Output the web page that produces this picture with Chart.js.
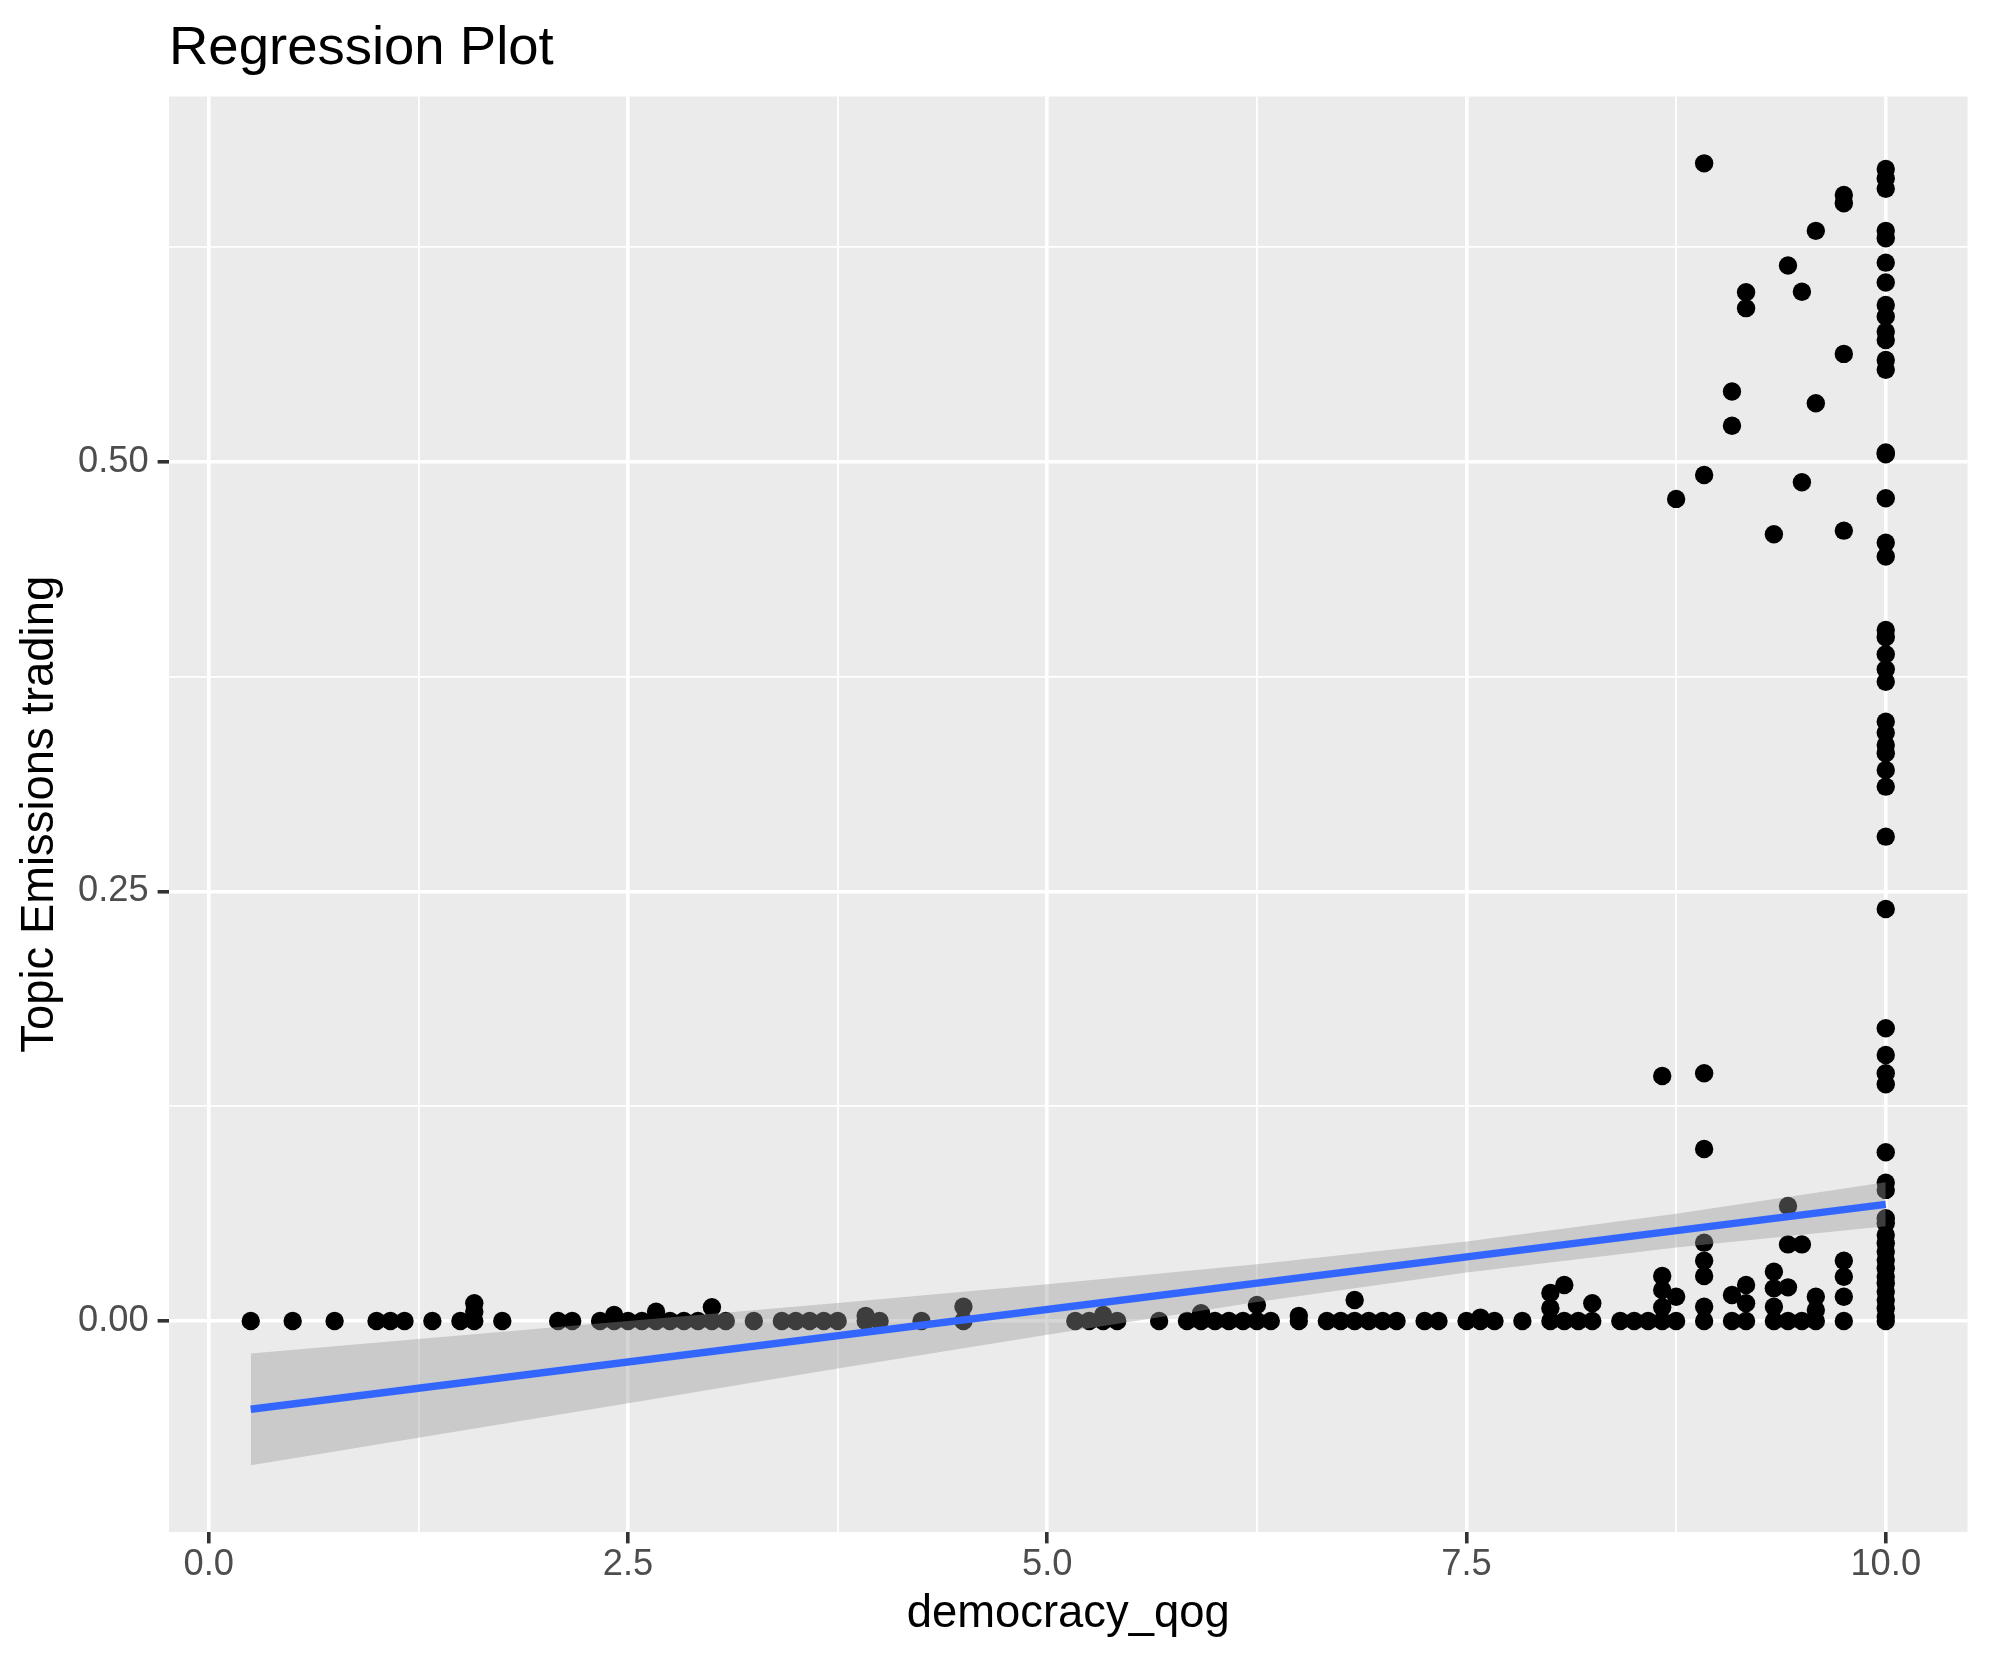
<!DOCTYPE html>
<html lang="en">
<head>
<meta charset="UTF-8">
<title>Regression Plot</title>
<script src="https://cdn.jsdelivr.net/npm/chart.js"></script>
<style>
  html, body { margin: 0; padding: 0; background: #ffffff; }
  #chart { display: block; }
</style>
</head>
<body>
<canvas id="chart" width="1990" height="1665"></canvas>
<script>
// democracy_qog levels (x) and the topic shares seen at each level (y)
const democracyLevels = [
  0.25, 0.5, 0.75, 1, 1.083, 1.167, 1.333, 1.5, 1.583, 1.75,
  2.083, 2.167, 2.333, 2.417, 2.5, 2.583, 2.667, 2.75, 2.833, 2.917,
  3, 3.083, 3.25, 3.417, 3.5, 3.583, 3.667, 3.75, 3.917, 4,
  4.25, 4.5, 5.167, 5.25, 5.333, 5.417, 5.667, 5.833, 5.917, 6,
  6.083, 6.167, 6.25, 6.333, 6.5, 6.667, 6.75, 6.833, 6.917, 7,
  7.083, 7.25, 7.333, 7.5, 7.583, 7.667, 7.833, 8, 8.083, 8.167,
  8.25, 8.417, 8.5, 8.583, 8.667, 8.75, 8.917, 9.083, 9.167, 9.333,
  9.417, 9.5, 9.583, 9.75, 10
];
const topicShares = [
  [0], [0], [0], [0], [0], [0], [0], [0], [0, 0.0054, 0.0103], [0],
  [0], [0], [0], [0, 0.0035], [0], [0], [0, 0.0054], [0], [0], [0],
  [0, 0.008], [0], [0], [0], [0], [0], [0], [0], [0, 0.003], [0],
  [0], [0, 0.0083], [0], [0], [0, 0.0035], [0], [0], [0], [0, 0.0045], [0],
  [0], [0], [0, 0.0093], [0], [0, 0.003], [0], [0], [0, 0.0122], [0], [0],
  [0], [0], [0], [0], [0, 0.002], [0], [0], [0, 0.0075, 0.0163], [0, 0.021], [0],
  [0, 0.0103], [0], [0], [0],
  [0, 0.008, 0.018, 0.0262, 0.1426],
  [0, 0.0141, 0.4785],
  [0, 0.0083, 0.0262, 0.0351, 0.0456, 0.1001, 0.1442, 0.4924, 0.6738],
  [0, 0.0151, 0.5211, 0.541],
  [0, 0.0103, 0.021, 0.5895, 0.5988],
  [0, 0.0083, 0.019, 0.0287, 0.4579],
  [0, 0.0196, 0.0446, 0.0669, 0.6143],
  [0, 0.0446, 0.4882, 0.5991],
  [0, 0.0064, 0.0141, 0.5342, 0.6345],
  [0, 0.0141, 0.0258, 0.0351, 0.46, 0.5629, 0.6506, 0.6554],
  [0, 0.0025, 0.0074, 0.0122, 0.0171, 0.022, 0.0258, 0.0307, 0.0355, 0.0403,
   0.0452, 0.05, 0.0569, 0.0598, 0.0763, 0.0805, 0.0982, 0.1378, 0.1442, 0.1548,
   0.1704, 0.2398, 0.2819, 0.311, 0.3207, 0.3304, 0.3353, 0.3424, 0.3488, 0.3721,
   0.3793, 0.3881, 0.398, 0.4022, 0.4449, 0.453, 0.4789, 0.5045, 0.5055, 0.5536,
   0.5594, 0.571, 0.5758, 0.5846, 0.5914, 0.6044, 0.616, 0.6302, 0.6345, 0.659,
   0.665, 0.6705]
];

// fitted line and its confidence band
const fitX = [0.25, 10];
const fitY = [-0.0514, 0.0679];
const bandX = [0.25, 1.25, 2.5, 3.75, 5, 6.25, 7.5, 8.75, 10];
const bandLower = [-0.0839, -0.0679, -0.0478, -0.0277, -0.008, 0.011, 0.0283, 0.0428, 0.0551];
const bandUpper = [-0.0189, -0.0105, 0.0, 0.0105, 0.0214, 0.033, 0.0463, 0.0624, 0.0807];

// axes
const xMajor = [0, 2.5, 5, 7.5, 10];
const xMinor = [1.25, 3.75, 6.25, 8.75];
const xLabels = ['0.0', '2.5', '5.0', '7.5', '10.0'];
const yMajor = [0, 0.25, 0.5];
const yMinor = [0.125, 0.375, 0.625];
const yLabels = ['0.00', '0.25', '0.50'];

const FONT = '"Liberation Sans", Arial, Helvetica, sans-serif';

const points = [];
democracyLevels.forEach((x, i) => {
  topicShares[i].forEach(y => points.push({ x: x, y: y }));
});
const fitLine = fitX.map((x, i) => ({ x: x, y: fitY[i] }));
const lower = bandX.map((x, i) => ({ x: x, y: bandLower[i] }));
const upper = bandX.map((x, i) => ({ x: x, y: bandUpper[i] }));

// grey panel behind the grid
const panelBg = {
  id: 'panelBg',
  beforeDraw(chart) {
    const { ctx, chartArea: a } = chart;
    ctx.save();
    ctx.fillStyle = '#ffffff';
    ctx.fillRect(0, 0, chart.width, chart.height);
    ctx.fillStyle = '#EBEBEB';
    ctx.fillRect(a.left, a.top, a.right - a.left, a.bottom - a.top);
    ctx.restore();
  }
};

// plot title, left aligned with the panel
const plotTitle = {
  id: 'plotTitle',
  afterDraw(chart) {
    const ctx = chart.ctx;
    ctx.save();
    ctx.font = '54.5px ' + FONT;
    ctx.fillStyle = '#000000';
    ctx.textAlign = 'left';
    ctx.textBaseline = 'alphabetic';
    ctx.fillText('Regression Plot', chart.chartArea.left, 64);
    ctx.restore();
  }
};

function gridFor(major) {
  return {
    color: '#FFFFFF',
    lineWidth: c => (c.tick && major.includes(c.tick.value)) ? 3.6 : 1.8,
    tickColor: c => (c.tick && major.includes(c.tick.value)) ? '#333333' : 'rgba(0,0,0,0)',
    tickLength: 11.4,
    tickWidth: 3.6,
    drawTicks: true
  };
}

new Chart(document.getElementById('chart'), {
  type: 'line',
  data: {
    datasets: [
      {
        data: points,
        showLine: false,
        pointRadius: 9.2,
        pointHoverRadius: 9.2,
        pointBackgroundColor: '#000000',
        pointBorderWidth: 0,
        order: 3
      },
      {
        data: lower,
        borderColor: 'rgba(0,0,0,0)',
        borderWidth: 0,
        pointRadius: 0,
        fill: false,
        order: 2
      },
      {
        data: upper,
        borderColor: 'rgba(0,0,0,0)',
        borderWidth: 0,
        pointRadius: 0,
        fill: '-1',
        backgroundColor: 'rgba(153,153,153,0.4)',
        order: 2
      },
      {
        data: fitLine,
        borderColor: '#3366FF',
        borderWidth: 7.5,
        pointRadius: 0,
        fill: false,
        order: 1
      }
    ]
  },
  options: {
    responsive: false,
    devicePixelRatio: 1,
    animation: false,
    events: [],
    layout: { padding: { top: 96.5, right: 22.5, bottom: 0, left: 0 } },
    plugins: {
      legend: { display: false },
      tooltip: { enabled: false },
      title: { display: false }
    },
    scales: {
      x: {
        type: 'linear',
        min: -0.2375,
        max: 10.4875,
        afterBuildTicks: axis => {
          axis.ticks = xMajor.concat(xMinor).sort((a, b) => a - b).map(v => ({ value: v }));
        },
        afterFit: s => { s.height = 133; },
        ticks: {
          autoSkip: false,
          maxRotation: 0,
          padding: 0,
          color: '#4D4D4D',
          font: { family: FONT, size: 36.3 },
          callback: v => {
            const i = xMajor.indexOf(v);
            return i >= 0 ? xLabels[i] : '';
          }
        },
        grid: gridFor(xMajor),
        border: { display: false },
        title: {
          display: true,
          text: 'democracy_qog',
          color: '#000000',
          font: { family: FONT, size: 45.4 },
          padding: { top: 0, bottom: 22.8 }
        }
      },
      y: {
        type: 'linear',
        min: -0.1228,
        max: 0.7127,
        afterBuildTicks: axis => {
          axis.ticks = yMajor.concat(yMinor).sort((a, b) => a - b).map(v => ({ value: v }));
        },
        afterFit: s => { s.width = 169; },
        ticks: {
          autoSkip: false,
          padding: 9,
          color: '#4D4D4D',
          font: { family: FONT, size: 36.3 },
          callback: v => {
            const i = yMajor.indexOf(v);
            return i >= 0 ? yLabels[i] : '';
          }
        },
        grid: gridFor(yMajor),
        border: { display: false },
        title: {
          display: true,
          text: 'Topic Emissions trading',
          color: '#000000',
          font: { family: FONT, size: 45.4 },
          padding: { top: 13, bottom: 0 }
        }
      }
    }
  },
  plugins: [panelBg, plotTitle]
});
</script>
</body>
</html>
